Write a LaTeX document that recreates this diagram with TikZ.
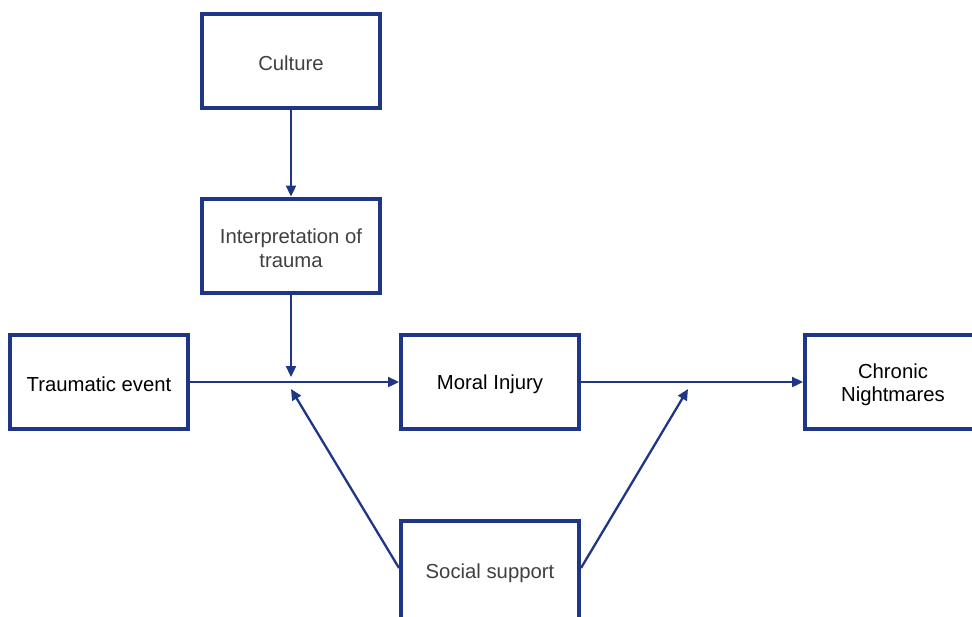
\documentclass[tikz,border=0pt]{standalone}
\usepackage{fontspec}
\setmainfont{Liberation Sans}
\usetikzlibrary{arrows.meta}
\definecolor{boxblue}{RGB}{31,54,135}
\definecolor{softtext}{RGB}{64,64,64}
\begin{document}
\begin{tikzpicture}[x=1pt,y=-1pt,
  box/.style={draw=boxblue, line width=4pt, fill=white, minimum width=178pt,
    minimum height=94pt, inner sep=0pt},
  lbl/.style={align=center, inner sep=0pt,
    font=\fontsize{20.3}{23.5}\selectfont},
  link/.style={draw=boxblue, line width=2.3pt,
    -{Triangle[length=11pt,width=10pt]}}]
  \clip (0,0) rectangle (972,616);
  \fill[white] (0,0) rectangle (972,616);

  % boxes
  \node[box] (culture) at (291,61) {};
  \node[box] (interp) at (291,245.5) {};
  \node[box] (event) at (99,382) {};
  \node[box] (injury) at (490,382) {};
  \node[box, minimum width=180pt] (night) at (895,382) {};
  \node[box, minimum height=100pt] (social) at (490,571) {};

  % box texts, set a little below each box centre
  \path (culture.center) ++(0,2) node[lbl, text=softtext] (culturetxt) {Culture};
  \path (interp.center) ++(0,2.5) node[lbl, text=softtext] (interptxt) {Interpretation of\\trauma};
  \path (event.center) ++(0,2.5) node[lbl] (eventtxt) {Traumatic event};
  \path (injury.center) ++(0,2.5) node[lbl] (injurytxt) {Moral Injury};
  \path (night.center) ++(-2,2.5) node[lbl] (nighttxt) {Chronic\\Nightmares};
  \path (social.center) ++(0,2.5) node[lbl, text=softtext] (socialtxt) {Social support};

  % junctions on the main paths
  \coordinate (m1) at (291,377);
  \coordinate (s1) at (291,389);
  \coordinate (s2) at (688,389);

  % connectors
  \draw[link] (culture) -- (interp);
  \draw[link] (interp) -- (m1);
  \draw[link] (event) -- (injury);
  \draw[link] (injury) -- (night);
  \draw[link] (social.west) ++(0,-3) -- (s1);
  \draw[link] (social.east) ++(0,-3) -- (s2);
\end{tikzpicture}
\end{document}
